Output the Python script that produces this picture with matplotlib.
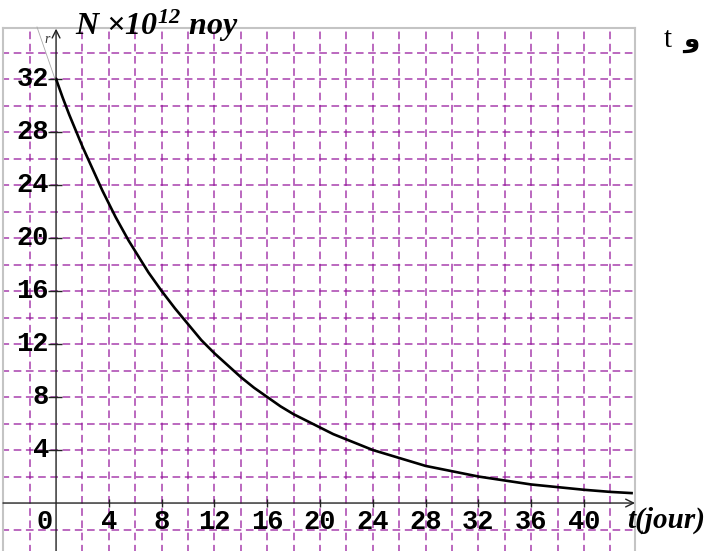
import matplotlib
matplotlib.use("Agg")
import matplotlib.pyplot as plt
from matplotlib.transforms import ScaledTranslation
from matplotlib.lines import Line2D

# ---- data ----
t_days = [0, 0.5, 1, 1.5, 2, 2.5, 3, 3.5, 4, 4.5, 5, 5.5, 6, 6.5, 7, 7.5, 8,
          9, 10, 11, 12, 13, 14, 15, 16, 17, 18, 19, 20, 21, 22, 23, 24,
          26, 28, 30, 32, 34, 36, 38, 40, 42, 43.6]
N_vals = [32.0, 30.6, 29.3, 28.1, 26.9, 25.8, 24.7, 23.6, 22.6, 21.6, 20.7, 19.8,
          19.0, 18.2, 17.4, 16.7, 16.0,
          14.7, 13.5, 12.3, 11.3, 10.4, 9.5, 8.7, 8.0, 7.3, 6.7, 6.2, 5.7, 5.2,
          4.8, 4.4, 4.0,
          3.4, 2.8, 2.4, 2.0, 1.7, 1.4, 1.2, 1.0, 0.84, 0.75]
x_tick_vals = [0, 4, 8, 12, 16, 20, 24, 28, 32, 36, 40]
y_tick_vals = [4, 8, 12, 16, 20, 24, 28, 32]
x_grid = list(range(-2, 44, 2))
y_grid = list(range(-2, 36, 2))
title_text = r'$N\ {\times}10^{12}\ noy$'
xlabel_text = 't(jour)'

plt.rcParams['mathtext.fontset'] = 'custom'
plt.rcParams['mathtext.rm'] = 'Liberation Serif:bold:italic'
plt.rcParams['mathtext.it'] = 'Liberation Serif:bold:italic'
plt.rcParams['mathtext.bf'] = 'Liberation Serif:bold:italic'

W, H = 704, 551
fig = plt.figure(figsize=(W / 100, H / 100), dpi=100)
ax = fig.add_axes([3 / W, 0, 632 / W, 523 / H])
ax.set_xlim(-4.02, 43.86)
ax.set_ylim(-3.62, 35.85)
ax.set_xticks([])
ax.set_yticks([])
for s in ['left', 'top', 'right']:
    ax.spines[s].set_color('#c4c4c4')
    ax.spines[s].set_linewidth(1.5)
ax.spines['bottom'].set_visible(False)

grid_color = '#93119a'
ax.vlines([g for g in x_grid if g != 0], -3.62, 35.85, colors=grid_color,
          linestyles=(1, (5, 3)), linewidth=1.1, alpha=0.8, zorder=1)
ax.hlines([g for g in y_grid if g != 0], -4.02, 43.86, colors=grid_color,
          linestyles=(1, (5, 3)), linewidth=1.1, alpha=0.8, zorder=1)

# axes with arrows
ax.annotate('', xy=(43.86, 0), xytext=(-4.02, 0),
            arrowprops=dict(arrowstyle='->', color='#222222', lw=1.0,
                            shrinkA=0, shrinkB=0, mutation_scale=14), zorder=3)
ax.annotate('', xy=(0, 35.8), xytext=(0, -3.62),
            arrowprops=dict(arrowstyle='->', color='#222222', lw=1.0,
                            shrinkA=0, shrinkB=0, mutation_scale=14), zorder=3)

# tick marks
ax.plot(x_tick_vals[1:], [0] * (len(x_tick_vals) - 1), linestyle='none',
        marker='|', markersize=6, markeredgewidth=1.0, color='#222222', zorder=3)
ax.plot([0] * len(y_tick_vals), y_tick_vals, linestyle='none',
        marker='_', markersize=10, markeredgewidth=1.0, color='#222222', zorder=3,
        transform=ax.transData + ScaledTranslation(-1.5 / 100, 0, fig.dpi_scale_trans))

lab_font = dict(family='Liberation Mono', weight='bold', fontsize=19.5, color='black')
for v in y_tick_vals:
    ax.text(0, v, str(v), ha='right', va='center', zorder=4,
            transform=ax.transData + ScaledTranslation(-7 / 100, 0, fig.dpi_scale_trans),
            **lab_font)
for v in x_tick_vals:
    if v == 0:
        tr = ax.transData + ScaledTranslation(-3 / 100, -19 / 100, fig.dpi_scale_trans)
        ha = 'right'
    else:
        tr = ax.transData + ScaledTranslation(0, -19 / 100, fig.dpi_scale_trans)
        ha = 'center'
    ax.text(v, 0, str(v), ha=ha, va='center', transform=tr, zorder=4, **lab_font)

# curve
ax.plot(t_days, N_vals, color='black', linewidth=1.9, zorder=5,
        solid_joinstyle='round')

# texts
fig.text(75 / W, 1 - 35 / H, title_text, fontsize=23, va='baseline', ha='left')
fig.text(627 / W, 1 - 528 / H, xlabel_text, family='Liberation Serif',
         style='italic', weight='bold', fontsize=21, va='baseline', ha='left')
fig.text(664 / W, 1 - 47 / H, 't', family='Liberation Serif', fontsize=21,
         va='baseline', ha='left')
fig.text(683 / W, 1 - 47 / H, '\u0648', family=['DejaVu Sans'], weight='bold',
         fontsize=19, va='baseline', ha='left')
fig.text(44 / W, 1 - 43 / H, 'r', family='Liberation Serif', style='italic',
         fontsize=10, va='baseline', ha='left', color='#333333')
fig.add_artist(Line2D([37 / W, 55 / W], [1 - 27 / H, 1 - 79 / H],
                      color='#aaaaaa', linewidth=0.6))

fig.savefig('out.png', dpi=100)
